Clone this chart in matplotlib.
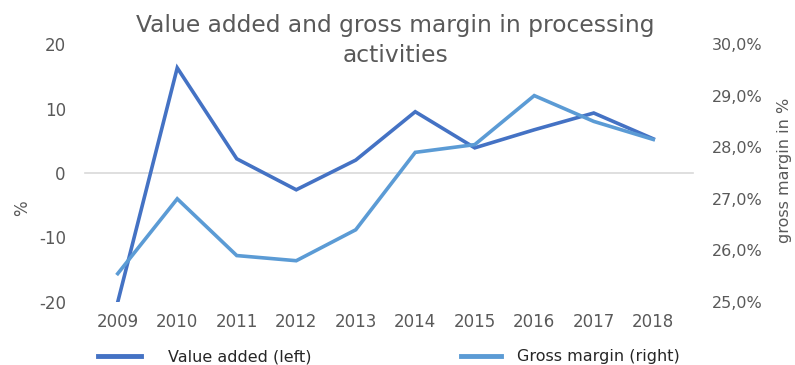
import matplotlib.pyplot as plt
from matplotlib.lines import Line2D
from matplotlib.ticker import FuncFormatter

years = [2009, 2010, 2011, 2012, 2013, 2014, 2015, 2016, 2017, 2018]
value_added = [-20.0, 16.3, 2.2, -2.6, 2.0, 9.5, 3.9, 6.7, 9.3, 5.3]
gross_margin = [25.55, 27.0, 25.9, 25.8, 26.4, 27.9, 28.05, 29.0, 28.5, 28.15]

dark = '#4472C4'
light = '#5B9BD5'
grey = '#595959'

plt.rcParams['font.family'] = ['DejaVu Sans']
plt.rcParams['axes.unicode_minus'] = False

fig = plt.figure(figsize=(7.95, 3.65), dpi=100)
ax = fig.add_axes([88 / 795, 1 - 302 / 365, (683 - 88) / 795, (302 - 44) / 365])
ax2 = ax.twinx()

x = list(range(len(years)))
ax.plot(x, value_added, color=dark, lw=2.6, solid_joinstyle='miter', zorder=3)
ax2.plot(x, gross_margin, color=light, lw=2.6, solid_joinstyle='miter', zorder=3)

ax.set_xlim(-0.5, len(years) - 0.5)
ax.set_ylim(-20, 20)
ax.set_yticks([-20, -10, 0, 10, 20])
ax2.set_ylim(25, 30)
ax2.set_yticks([25, 26, 27, 28, 29, 30])
ax2.yaxis.set_major_formatter(FuncFormatter(lambda v, p: ('%.1f%%' % v).replace('.', ',')))

ax.set_xticks(x)
ax.set_xticklabels([str(y) for y in years])

# only the zero line is drawn, slightly wider than the plot area
ax.plot([-0.55, 9.67], [0, 0], color='#d9d9d9', lw=1.2, zorder=1, clip_on=False)

for a in (ax, ax2):
    for s in a.spines.values():
        s.set_visible(False)
    a.tick_params(length=0, labelsize=12, colors=grey)
ax.tick_params(axis='y', pad=16)
ax.tick_params(axis='x', pad=8)
ax2.tick_params(axis='y', pad=21, labelsize=11.5)

fig.text(22 / 795, 157 / 365, '%', rotation=90, ha='center', va='center', fontsize=12, color=grey)
fig.text(784 / 795, 1 - 170 / 365, 'gross margin in %', rotation=90, ha='center', va='center',
         fontsize=11.5, color=grey)

fig.text(0.497, 0.889, 'Value added and gross margin in processing\nactivities',
         ha='center', va='center', fontsize=16.8, color=grey, linespacing=1.36)

handles = [Line2D([], [], color=dark, lw=3.5), Line2D([], [], color=light, lw=3.5)]
fig.legend(handles[:1], ['Value added (left)'], loc='center left', bbox_to_anchor=(0.123, 0.022),
           frameon=False, fontsize=11.5, handlelength=2.7, handletextpad=1.7, labelcolor='#262626',
           borderpad=0, borderaxespad=0)
fig.legend(handles[1:], ['Gross margin (right)'], loc='center left', bbox_to_anchor=(0.58, 0.022),
           frameon=False, fontsize=11.5, handlelength=2.5, handletextpad=1.0, labelcolor='#262626',
           borderpad=0, borderaxespad=0)

fig.savefig('out.png', dpi=100)
